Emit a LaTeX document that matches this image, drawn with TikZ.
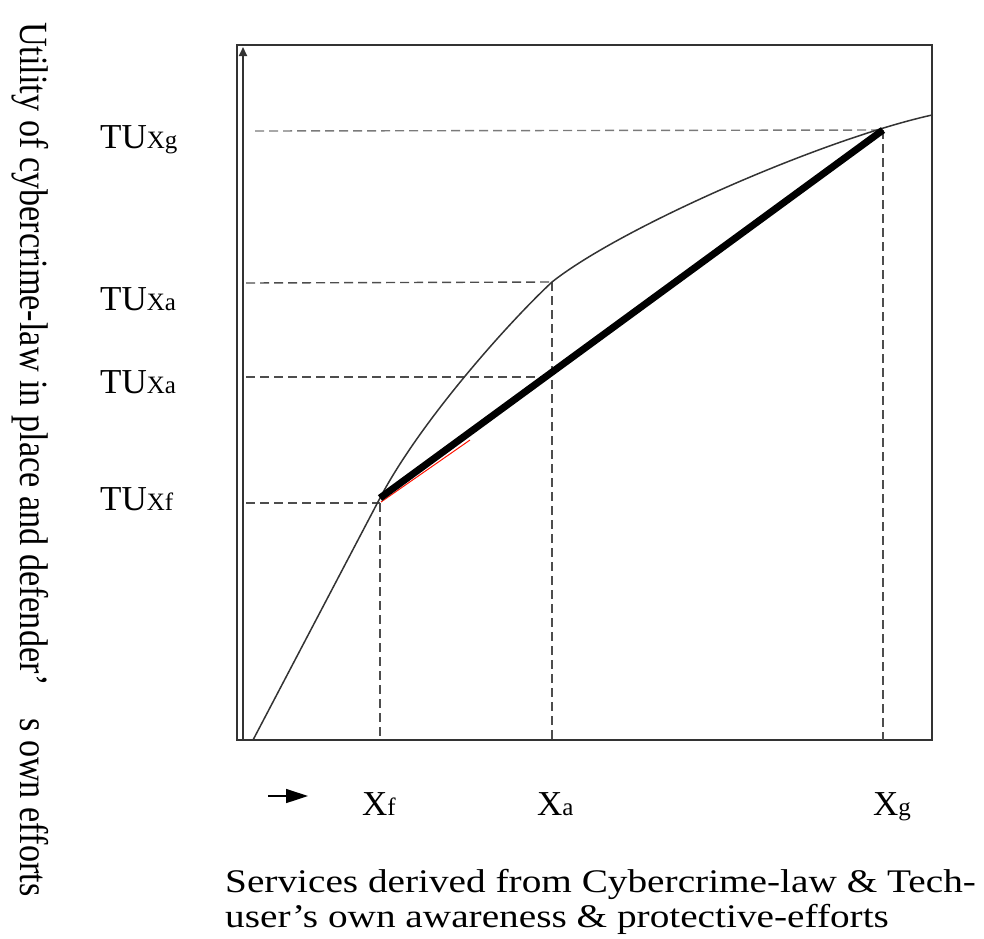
\documentclass[tikz,border=0pt]{standalone}
\usepackage{fontspec}
\setmainfont{Liberation Serif}
\newfontfamily\widefont[FakeStretch=1.19]{Liberation Serif}
\newfontfamily\narrowfont[FakeStretch=0.855]{Liberation Serif}
\usetikzlibrary{arrows.meta}
\definecolor{framegray}{HTML}{333333}
\definecolor{dashgray}{HTML}{4D4D4D}
\definecolor{lightdash}{HTML}{7A7A7A}
\newcommand{\bigtxt}{\fontsize{35}{35}\selectfont}
\newcommand{\subtxt}[1]{{\fontsize{25}{25}\selectfont #1}}

\begin{document}
\begin{tikzpicture}[x=1pt,y=-1pt]
    \tikzstyle{guide}=[draw=dashgray,line width=1.4pt,dash pattern=on 9pt off 5pt]
    \tikzstyle{lbl}=[inner sep=0pt,anchor=base west]
    \useasboundingbox (0,0) rectangle (984,938);

    % frame and axis
    \draw[framegray,line width=1.5pt] (237,45) rectangle (932,740);
    \coordinate (O) at (243,740);
    \coordinate (Top) at (243,47);
    \draw[framegray,line width=2pt,-{Triangle[length=9pt,width=8pt]}] (O) -- (Top);

    % points on the curve
    \coordinate (S) at (253,740);
    \coordinate (F) at (380,498);
    \coordinate (Fh) at (380,503);
    \coordinate (A) at (552,282);
    \coordinate (Am) at (552,377);
    \coordinate (G) at (883,130);
    \coordinate (E) at (932,115);

    % guide lines
    \draw[guide,draw=lightdash] (255,131) -- (G);
    \foreach \y/\p in {283/A, 377/Am, 503/Fh}
        \draw[guide] (246,\y) -- (\p);
    \foreach \p in {Fh, A, G}
        \draw[guide] (\p) -- (\p |- O);

    % utility curve
    \draw[framegray,line width=1.5pt] (S) -- (F)
        .. controls (420,422) and (507,324) .. (A)
        .. controls (620,228) and (820,140) .. (E);

    % chord
    \draw[red!85!orange,line width=1pt] (381,502) -- (470,440);
    \draw[black,line width=7pt] (F) -- (G);

    % labels
    \node[lbl] (TU-g) at (100,148) {\bigtxt TU\subtxt{Xg}};
    \node[lbl] (TU-a1) at (100,310) {\bigtxt TU\subtxt{Xa}};
    \node[lbl] (TU-a2) at (100,393) {\bigtxt TU\subtxt{Xa}};
    \node[lbl] (TU-f) at (100,510) {\bigtxt TU\subtxt{Xf}};
    \node[lbl] (X-f) at (362,815) {\bigtxt X\subtxt{f}};
    \node[lbl] (X-a) at (537,815) {\bigtxt X\subtxt{a}};
    \node[lbl] (X-g) at (873,815) {\bigtxt X\subtxt{g}};

    \coordinate (arr-s) at (268,796);
    \coordinate (arr-e) at (308,796);
    \draw[line width=1.5pt,-{Triangle[length=22pt,width=14pt]}] (arr-s) -- (arr-e);

    \node[lbl] (xlabel1) at (225,892) {\widefont\fontsize{33}{33}\selectfont Services derived from Cybercrime-law \& Tech-};
    \node[lbl] (xlabel2) at (225,927) {\widefont\fontsize{33}{33}\selectfont user’s own awareness \& protective-efforts};
    \node[lbl,rotate=-90] (ylabel) at (20,22) {\narrowfont\fontsize{40}{40}\selectfont Utility of cybercrime-law in place and defender’\hspace{32pt}s own efforts};
\end{tikzpicture}
\end{document}
